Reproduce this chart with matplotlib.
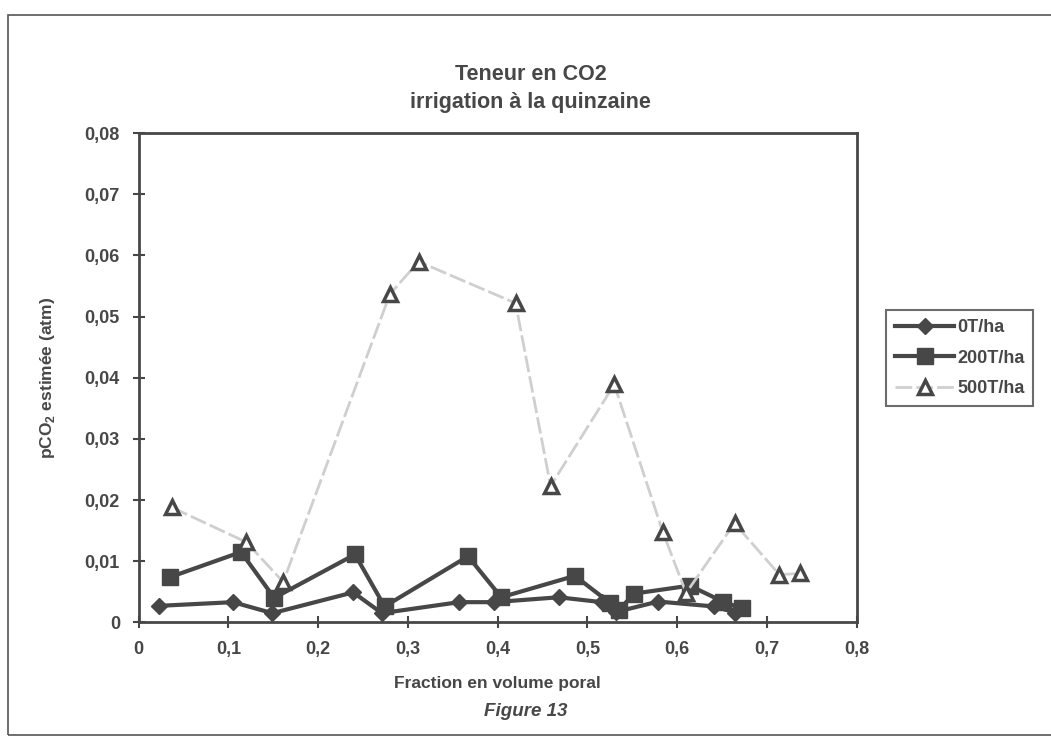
import matplotlib.pyplot as plt
from matplotlib.patches import Rectangle

# values
x_0t = [0.023, 0.105, 0.149, 0.239, 0.271, 0.357, 0.396, 0.468, 0.516, 0.532, 0.579, 0.641, 0.665]
y_0t = [0.0027, 0.0033, 0.0015, 0.0049, 0.0015, 0.0033, 0.0033, 0.0041, 0.0033, 0.0017, 0.0034, 0.0026, 0.0016]

x_200t = [0.035, 0.114, 0.151, 0.241, 0.274, 0.367, 0.404, 0.486, 0.525, 0.535, 0.552, 0.614, 0.651, 0.672]
y_200t = [0.0074, 0.0115, 0.0040, 0.0111, 0.0026, 0.0108, 0.0041, 0.0076, 0.0032, 0.0020, 0.0047, 0.0060, 0.0034, 0.0023]

x_500t = [0.037, 0.120, 0.161, 0.280, 0.312, 0.420, 0.459, 0.530, 0.584, 0.610, 0.664, 0.714, 0.737]
y_500t = [0.0188, 0.0131, 0.0066, 0.0537, 0.0590, 0.0522, 0.0223, 0.0389, 0.0148, 0.0048, 0.0162, 0.0078, 0.0080]

series_names = ["0T/ha", "200T/ha", "500T/ha"]
x_ticks = [0, 0.1, 0.2, 0.3, 0.4, 0.5, 0.6, 0.7, 0.8]
y_ticks = [0, 0.01, 0.02, 0.03, 0.04, 0.05, 0.06, 0.07, 0.08]

dark = "#474747"
plt.rcParams["font.family"] = ["Liberation Sans", "DejaVu Sans"]
plt.rcParams["font.weight"] = "bold"
plt.rcParams["axes.labelweight"] = "bold"

fig = plt.figure(figsize=(10.51, 7.40), dpi=100)
ax = fig.add_axes([0.132, 0.159, 0.683, 0.661])

ax.plot(x_0t, y_0t, color=dark, lw=3, marker="D", ms=8, label=series_names[0])
ax.plot(x_200t, y_200t, color=dark, lw=3, marker="s", ms=11, label=series_names[1])
ax.plot(x_500t, y_500t, color="#cfcfcf", lw=2, ls=(0, (6, 1.5)), marker="^", ms=10,
        mfc="white", mec=dark, mew=2.5, label=series_names[2])

ax.set_xlim(0, 0.8)
ax.set_ylim(0, 0.08)
ax.set_xticks(x_ticks)
ax.set_yticks(y_ticks)
ax.set_xticklabels([("%g" % v).replace(".", ",") for v in x_ticks])
ax.set_yticklabels([("%g" % v).replace(".", ",") for v in y_ticks])
ax.tick_params(direction="inout", length=9, width=1.5, color=dark, labelcolor=dark,
               labelsize=13, pad=9)
for sp in ax.spines.values():
    sp.set_color(dark)
    sp.set_linewidth(2)

ax.set_xlabel("Fraction en volume poral", fontsize=12.5, color=dark, labelpad=13)
ax.set_ylabel(r"pCO$_\mathregular{2}$ estimée (atm)", fontsize=12.5, color=dark, labelpad=20)
fig.text(0.5, 0.032, "Figure 13", ha="center", fontsize=13.5, style="italic", color=dark)
fig.text(0.505, 0.88, "Teneur en CO2\nirrigation à la quinzaine", ha="center", va="center",
         fontsize=15.5, color=dark, linespacing=1.45)

leg = ax.legend(loc="center left", bbox_to_anchor=(1.028, 0.54), frameon=True, fancybox=False,
                fontsize=13, handlelength=3.3, borderpad=0.5, labelspacing=0.75,
                handletextpad=0.15)
leg.get_frame().set_edgecolor(dark)
leg.get_frame().set_linewidth(1.5)
for t in leg.get_texts():
    t.set_color(dark)

# outer frame of the scanned page
fig.patches.append(Rectangle((0.008, 0.007), 1.2, 0.973, transform=fig.transFigure,
                             fill=False, edgecolor="#555555", lw=1.2))

fig.savefig("out.png", dpi=100)
